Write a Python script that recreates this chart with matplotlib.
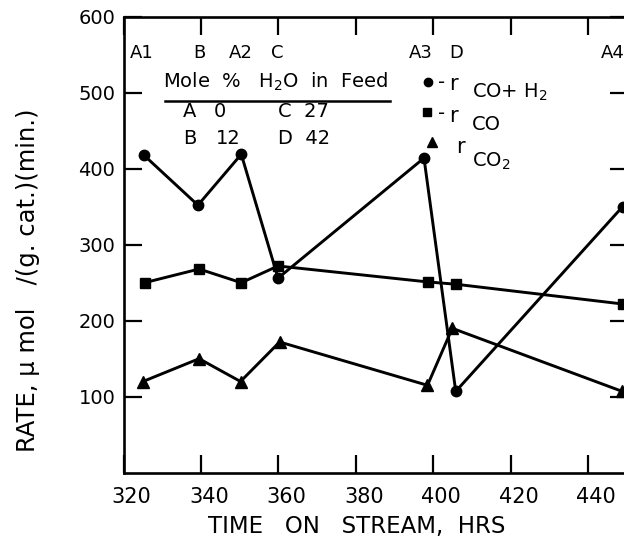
import matplotlib
matplotlib.use("Agg")
import matplotlib.pyplot as plt
from matplotlib.lines import Line2D
import matplotlib.transforms as mtransforms

# ---- data ----
run_labels = ["A1", "B", "A2", "C", "A3", "D", "A4"]
run_times = [324.8, 339.6, 350.3, 359.8, 396.8, 406.0, 446.5]

t_co_h2 = [325.2, 339.2, 350.4, 359.9, 397.6, 405.8, 448.9]
r_co_h2 = [418, 352, 419, 256, 414, 107, 350]

t_co = [325.4, 339.5, 350.4, 359.9, 398.6, 405.8, 448.9]
r_co = [250, 268, 250, 272, 251, 248, 222]

t_co2 = [325.0, 339.5, 350.2, 360.3, 398.5, 404.9, 448.8]
r_co2 = [120, 150, 120, 172, 115, 190, 107]

xticks = [320, 340, 360, 380, 400, 420, 440]
yticks = [100, 200, 300, 400, 500, 600]

W, H = 624, 539
fig = plt.figure(figsize=(W / 100, H / 100), dpi=100)
plt.rcParams['font.family'] = ['DejaVu Sans']

def fx(x):
    return x / W

def fy(y):
    return 1 - y / H

left, right, top, bottom = 123.6, 628.0, 16.7, 472.7
ax = fig.add_axes([fx(left), fy(bottom), (right - left) / W, (bottom - top) / H])
ax.set_xlim(320, 450.3)
ax.set_ylim(0, 600)

lw = 2.1
ax.plot(t_co_h2, r_co_h2, color="black", lw=lw, marker="o", ms=7.5, zorder=3)
ax.plot(t_co, r_co, color="black", lw=lw, marker="s", ms=7, zorder=3)
ax.plot(t_co2, r_co2, color="black", lw=lw, marker="^", ms=9, zorder=3)

for s in ax.spines.values():
    s.set_linewidth(1.9)
    s.set_color("black")

ax.set_xticks(xticks)
ax.set_xticklabels([str(v) for v in xticks], fontsize=15)
ax.set_yticks(yticks)
ax.set_yticklabels([str(v) for v in yticks], fontsize=14)
ax.tick_params(axis="both", direction="in", length=13, width=1.6,
               top=True, right=True, labeltop=False, labelright=False)
ax.tick_params(axis="x", pad=10)
ax.tick_params(axis="y", pad=6)

offset = mtransforms.ScaledTranslation(8 / 100, 0, fig.dpi_scale_trans)
for lab in ax.get_xticklabels():
    lab.set_transform(lab.get_transform() + offset)

# run labels above the points
for lab, t in zip(run_labels, run_times):
    ax.text(t, (bottom - 58) / 0.76, lab, fontsize=13, ha="center", va="baseline")

# axis titles
fig.text(fx(357), fy(526), "TIME   ON   STREAM,  HRS", fontsize=16.5,
         ha="center", va="center")
fig.text(fx(28), fy(280), "RATE, \u03bc mol   /(g. cat.)(min.)", fontsize=17.5,
         rotation=90, ha="center", va="center")

# left legend block
fs = 14
fig.text(fx(163), fy(88), "Mole  %   H$_2$O  in  Feed", fontsize=fs, va="baseline")
fig.add_artist(Line2D([fx(165), fx(390)], [fy(100.7), fy(100.7)],
                      color="black", lw=1.8, transform=fig.transFigure))
fig.text(fx(183), fy(117.3), "A", fontsize=fs, va="baseline")
fig.text(fx(214), fy(117.3), "0", fontsize=fs, va="baseline")
fig.text(fx(278), fy(117.3), "C  27", fontsize=fs, va="baseline")
fig.text(fx(183), fy(144), "B", fontsize=fs, va="baseline")
fig.text(fx(216), fy(144), "12", fontsize=fs, va="baseline")
fig.text(fx(278), fy(144), "D  42", fontsize=fs, va="baseline")

# right legend block
fig.add_artist(Line2D([fx(428)], [fy(81.7)], marker="o", ms=6, color="black",
                      transform=fig.transFigure))
fig.text(fx(438), fy(88), "-", fontsize=14, va="baseline")
fig.text(fx(449), fy(90), "r", fontsize=15, va="baseline")
fig.text(fx(472), fy(97.5), "CO+ H$_2$", fontsize=14, va="baseline")

fig.add_artist(Line2D([fx(427)], [fy(111.7)], marker="s", ms=6, color="black",
                      transform=fig.transFigure))
fig.text(fx(438), fy(119.5), "-", fontsize=14, va="baseline")
fig.text(fx(449), fy(121.7), "r", fontsize=15, va="baseline")
fig.text(fx(472), fy(130), "CO", fontsize=14, va="baseline")

fig.add_artist(Line2D([fx(432)], [fy(141.7)], marker="^", ms=7, color="black",
                      transform=fig.transFigure))
fig.text(fx(456), fy(153), "r", fontsize=15, va="baseline")
fig.text(fx(472), fy(167), "CO$_2$", fontsize=14, va="baseline")

fig.savefig("out.png", dpi=100)
